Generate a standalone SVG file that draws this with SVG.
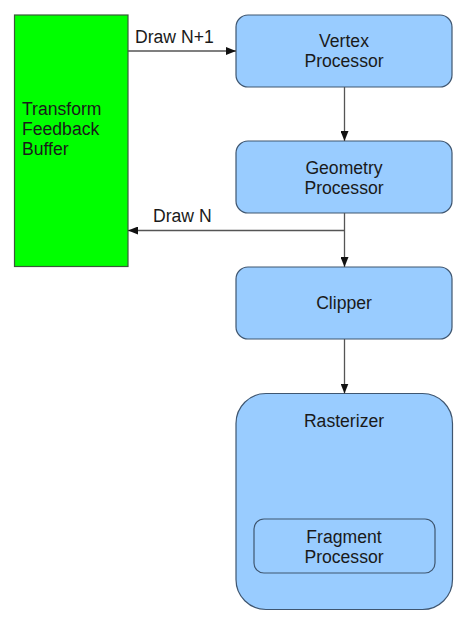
<svg xmlns="http://www.w3.org/2000/svg" width="462" height="618" viewBox="0 0 462 618">
<style>
.box{fill:#99ccff;stroke:#3f5670;stroke-width:1.2}
.t{font-family:"Liberation Sans",Arial,sans-serif;font-size:17.6px;fill:#1a1a1a}
.c{text-anchor:middle}
.ln{stroke:#555;stroke-width:1.3;fill:none}
</style>
<defs>
<marker id="ah" viewBox="0 0 10 8" refX="10" refY="4" markerWidth="10" markerHeight="8" markerUnits="userSpaceOnUse" orient="auto">
<path d="M0,0 L10,4 L0,8 Z" fill="#111"/>
</marker>
</defs>
<rect width="462" height="618" fill="#fff"/>
<g id="tfb">
<rect x="14.5" y="15" width="113.5" height="251.5" fill="#00ff00" stroke="#3a5a3a" stroke-width="1.2"/>
<text class="t" x="22" y="115">Transform</text>
<text class="t" x="22" y="135">Feedback</text>
<text class="t" x="22" y="155">Buffer</text>
</g>
<g id="vertex">
<rect class="box" x="236" y="15" width="216" height="72" rx="12"/>
<text class="t c" x="344" y="46.5">Vertex</text>
<text class="t c" x="344" y="66.5">Processor</text>
</g>
<g id="geometry">
<rect class="box" x="236" y="141" width="216" height="72" rx="12"/>
<text class="t c" x="344" y="173.5">Geometry</text>
<text class="t c" x="344" y="193.5">Processor</text>
</g>
<g id="clipper">
<rect class="box" x="236" y="267" width="216" height="72" rx="12"/>
<text class="t c" x="344" y="309">Clipper</text>
</g>
<g id="rasterizer">
<rect class="box" x="236" y="393.5" width="216.5" height="216" rx="30"/>
<text class="t c" x="344" y="426.5">Rasterizer</text>
</g>
<g id="fragment">
<rect class="box" x="254" y="519" width="181" height="54" rx="10"/>
<text class="t c" x="344" y="542.5">Fragment</text>
<text class="t c" x="344" y="562.5">Processor</text>
</g>
<g id="connectors">
<line class="ln" x1="128" y1="51" x2="236" y2="51" marker-end="url(#ah)"/>
<text class="t" x="135" y="43">Draw N+1</text>
<line class="ln" x1="344.5" y1="87" x2="344.5" y2="141" marker-end="url(#ah)"/>
<line class="ln" x1="344.5" y1="213" x2="344.5" y2="267" marker-end="url(#ah)"/>
<line class="ln" x1="344.5" y1="230.5" x2="128" y2="230.5" marker-end="url(#ah)"/>
<text class="t" x="153" y="222">Draw N</text>
<line class="ln" x1="344.5" y1="339" x2="344.5" y2="393.5" marker-end="url(#ah)"/>
</g>
</svg>
